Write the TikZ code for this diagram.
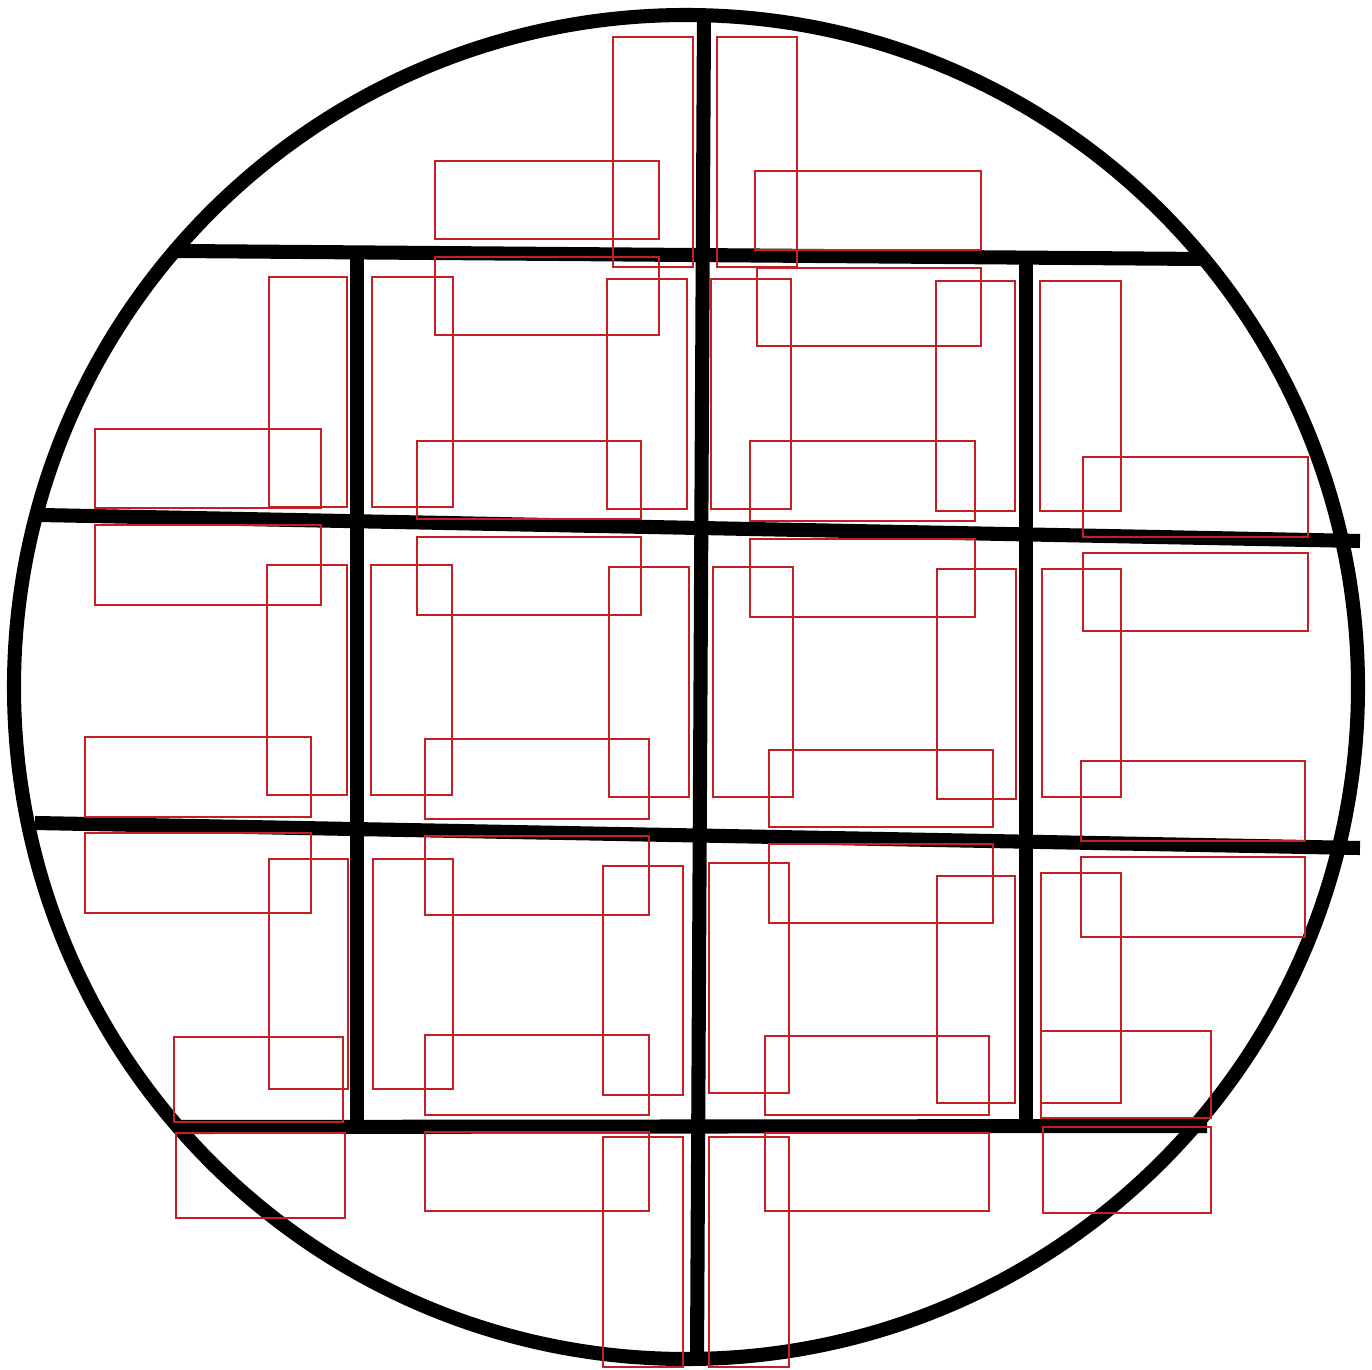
\documentclass[tikz,border=0pt]{standalone}
\definecolor{boxred}{RGB}{196,32,36}
\tikzset{
  thick line/.style={line width=4pt, black},
  red box/.style={draw=boxred, line width=0.45pt},
}
\begin{document}
\begin{tikzpicture}[x=0.01cm, y=-0.01cm]
\useasboundingbox (0,0) rectangle (1372,1370);
% outer circle
\draw[thick line] (686,687) circle [radius=672];
% horizontal bars
\draw[thick line] (178,251) -- (1203,259);
\draw[thick line] (40,515) -- (1360,541);
\draw[thick line] (35,823) -- (1360,848);
\draw[thick line] (177,1127) -- (1207,1126);
% vertical bars
\draw[thick line] (704,14) -- (697,1360);
\draw[thick line] (357,251) -- (357,1133);
\draw[thick line] (1026,258) -- (1026,1133);
% red rectangles
\foreach \a/\b/\c/\d in {
613/37/693/267, 435/161/659/239, 435/257/659/335, 717/37/797/267,
755/171/981/250, 757/268/981/346,
269/277/347/507, 95/429/321/508, 95/525/321/605, 372/277/453/507,
607/279/687/509, 417/441/641/519, 711/279/791/509, 936/281/1015/511,
750/441/975/521, 1040/281/1121/511, 1083/457/1308/537, 1083/553/1308/631,
267/565/347/795, 85/737/311/817, 85/833/311/913, 371/565/452/795,
417/537/641/615, 609/567/689/797, 425/739/649/819, 713/567/793/797,
750/539/975/617, 937/569/1016/799, 769/750/993/827, 1042/569/1121/797,
1081/761/1305/841, 1081/857/1305/937,
269/859/348/1089, 174/1037/343/1122, 176/1133/345/1218, 373/859/453/1089,
425/836/649/915, 603/866/683/1095, 425/1035/649/1115, 425/1132/649/1211,
603/1137/683/1367, 709/863/789/1093, 769/844/993/923, 937/876/1015/1103,
765/1036/989/1115, 765/1133/989/1211, 709/1137/789/1367, 1041/873/1121/1103,
1041/1031/1211/1118, 1043/1127/1211/1213}
  \draw[red box] (\a,\b) rectangle (\c,\d);
\end{tikzpicture}
\end{document}
